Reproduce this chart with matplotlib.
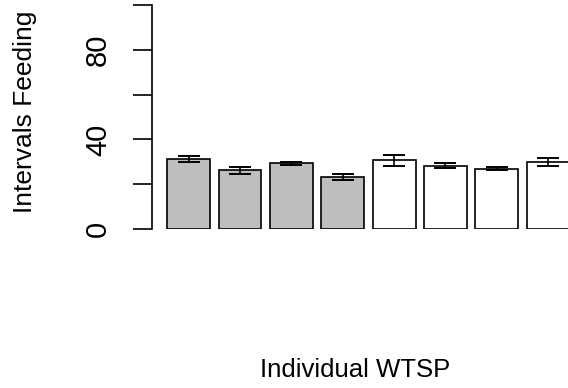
import numpy as np
import matplotlib.pyplot as plt

plt.rcParams['font.family'] = ['Liberation Sans', 'DejaVu Sans']

# mean intervals feeding per bird, with standard errors
means = [31.2, 26.2, 29.3, 23.2, 30.7, 28.3, 27.0, 29.9]
errors = [1.2, 1.5, 0.6, 1.5, 2.4, 1.0, 0.7, 1.6]
colors = ['#BEBEBE'] * 4 + ['white'] * 4
yticks = [0, 20, 40, 60, 80, 100]
ylabels = ['0', '', '40', '', '80', '']

fig = plt.figure(figsize=(5.68, 3.88), dpi=100)
ax = fig.add_axes([152 / 568, 159 / 388, 416 / 568, 224 / 388])

# R style barplot: width 1, space 0.2
centers = 0.7 + 1.2 * np.arange(len(means))
ax.bar(centers, means, width=1.0, color=colors, edgecolor='black', linewidth=1.2)
ax.errorbar(centers, means, yerr=errors, fmt='none', ecolor='black',
            elinewidth=1.2, capsize=8, capthick=1.4)

ax.set_xlim(-0.157, 9.563)
ax.set_ylim(0, 100)
for side in ['top', 'right', 'bottom']:
    ax.spines[side].set_visible(False)
ax.spines['left'].set_linewidth(1.2)
ax.set_xticks([])
ax.set_yticks(yticks)
ax.set_yticklabels(ylabels, rotation=90, va='center', fontsize=21)
ax.tick_params(axis='y', length=13.7, width=1.2, pad=15)

fig.text(25 / 568, 1 - 112 / 388, 'Intervals Feeding', rotation=90,
         ha='center', va='center', fontsize=19)
fig.text(355 / 568, 1 - 370 / 388, 'Individual WTSP',
         ha='center', va='center', fontsize=18.5)

fig.savefig('out.png', dpi=100)
